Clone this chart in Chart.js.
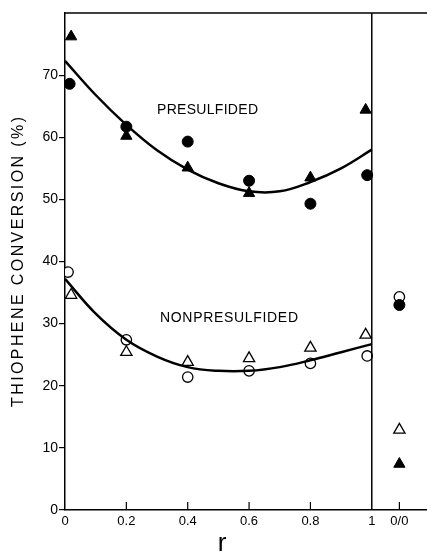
<!DOCTYPE html>
<html lang="en">
<head>
    <meta charset="UTF-8">
    <title>Thiophene Conversion</title>
    <script src="https://cdn.jsdelivr.net/npm/chart.js"></script>
    <style>
        html, body { margin: 0; padding: 0; background: #fff; }
        #wrap { width: 427px; height: 555px; }
    </style>
</head>
<body>
    <div id="wrap"><canvas id="conversionChart" width="427" height="555"></canvas></div>

    <script>
        // r values (0/0 plotted at the separate slot right of r = 1)
        const tickValues = [0, 0.2, 0.4, 0.6, 0.8, 1, 1.09];
        const tickLabels = ['0', '0.2', '0.4', '0.6', '0.8', '1', '0/0'];

        // measured points
        const presTriX = [0.02, 0.2, 0.4, 0.6, 0.8, 0.98, 1.09];
        const presTri = [76.2, 60.2, 55.1, 51.0, 53.5, 64.4, 7.4];
        const presCircX = [0.015, 0.2, 0.4, 0.6, 0.8, 0.985, 1.09];
        const presCirc = [68.6, 61.7, 59.3, 53.0, 49.3, 53.9, 33.0];
        const nonCircX = [0.01, 0.2, 0.4, 0.6, 0.8, 0.985, 1.09];
        const nonCirc = [38.3, 27.4, 21.4, 22.4, 23.6, 24.8, 34.3];
        const nonTriX = [0.02, 0.2, 0.4, 0.6, 0.8, 0.98, 1.09];
        const nonTri = [34.6, 25.4, 23.8, 24.4, 26.1, 28.2, 12.9];

        // fitted curves
        const curveX = [0, 0.1, 0.2, 0.3, 0.4, 0.5, 0.6, 0.7, 0.8, 0.9, 1];
        const presCurve = [72.3, 66.8, 62.0, 57.9, 54.8, 52.6, 51.3, 51.3, 52.8, 55.0, 58.0];
        const nonCurve = [37.2, 31.6, 27.4, 24.7, 23.0, 22.4, 22.4, 23.0, 24.1, 25.4, 26.7];

        const zip = (xs, ys) => xs.map((x, i) => ({ x: x, y: ys[i] }));

        const fontFamily = '"Liberation Sans", Arial, sans-serif';

        function drawSpaced(ctx, text, x, y, width) {
            ctx.letterSpacing = '0px';
            const w = ctx.measureText(text).width;
            const sp = (width - w) / (text.length - 1);
            ctx.letterSpacing = sp + 'px';
            ctx.fillText(text, x, y);
            ctx.letterSpacing = '0px';
        }

        const decorations = {
            id: 'decorations',
            afterDraw(chart) {
                const ctx = chart.ctx;
                const area = chart.chartArea;
                const xs = chart.scales.x;
                ctx.save();
                ctx.strokeStyle = '#000';
                ctx.lineWidth = 1.5;
                // top frame line
                ctx.beginPath();
                ctx.moveTo(area.left, area.top);
                ctx.lineTo(area.right, area.top);
                ctx.stroke();
                // inward x ticks
                ctx.lineWidth = 1.2;
                tickValues.forEach(v => {
                    if (v === 0 || v === 1) return;
                    const px = xs.getPixelForValue(v);
                    ctx.beginPath();
                    ctx.moveTo(px, area.bottom);
                    ctx.lineTo(px, area.bottom - 8);
                    ctx.stroke();
                });

                ctx.fillStyle = '#000';
                ctx.textBaseline = 'middle';
                ctx.textAlign = 'left';
                ctx.font = '14px ' + fontFamily;
                drawSpaced(ctx, 'PRESULFIDED', 157, 110, 101);
                drawSpaced(ctx, 'NONPRESULFIDED', 160, 318, 138);

                // y title
                ctx.save();
                ctx.translate(19, 262);
                ctx.rotate(-Math.PI / 2);
                ctx.font = '16px ' + fontFamily;
                drawSpaced(ctx, 'THIOPHENE CONVERSION (%)', -145, 0, 290);
                ctx.restore();

                // x title
                ctx.textAlign = 'center';
                ctx.textBaseline = 'alphabetic';
                ctx.font = '26px ' + fontFamily;
                ctx.fillText('r', 222, 551);
                ctx.restore();
            }
        };

        new Chart(document.getElementById('conversionChart').getContext('2d'), {
            type: 'scatter',
            data: {
                datasets: [
                    {
                        data: [{ x: 1, y: 0 }, { x: 1, y: 80 }],
                        showLine: true, borderColor: '#000', borderWidth: 1.5, pointRadius: 0
                    },
                    {
                        data: zip(curveX, presCurve),
                        showLine: true, tension: 0.4, borderColor: '#000', borderWidth: 2.5, pointRadius: 0
                    },
                    {
                        data: zip(curveX, nonCurve),
                        showLine: true, tension: 0.4, borderColor: '#000', borderWidth: 2.5, pointRadius: 0
                    },
                    {
                        data: zip(presTriX, presTri),
                        pointStyle: 'triangle', pointRadius: 6.5, backgroundColor: '#000', borderColor: '#000', borderWidth: 1
                    },
                    {
                        data: zip(presCircX, presCirc),
                        pointStyle: 'circle', pointRadius: 5.5, backgroundColor: '#000', borderColor: '#000', borderWidth: 1
                    },
                    {
                        data: zip(nonCircX, nonCirc),
                        pointStyle: 'circle', pointRadius: 5.2, backgroundColor: '#fff', borderColor: '#000', borderWidth: 1.3
                    },
                    {
                        data: zip(nonTriX, nonTri),
                        pointStyle: 'triangle', pointRadius: 6.5, backgroundColor: '#fff', borderColor: '#000', borderWidth: 1.3
                    }
                ]
            },
            options: {
                responsive: false,
                animation: false,
                layout: { autoPadding: false, padding: { top: 13, right: 0, left: 0, bottom: 0 } },
                plugins: { legend: { display: false }, tooltip: { enabled: false } },
                scales: {
                    x: {
                        type: 'linear',
                        min: 0,
                        max: 1.18,
                        afterBuildTicks: scale => { scale.ticks = tickValues.map(v => ({ value: v })); },
                        afterFit: scale => {
                            scale.height = 45;
                            scale.paddingLeft = 0;
                            scale.paddingRight = 0;
                        },
                        grid: { display: false, drawTicks: false },
                        border: { color: '#000', width: 1.5 },
                        ticks: {
                            padding: 4,
                            color: '#000',
                            font: { family: fontFamily, size: 13 },
                            maxRotation: 0,
                            autoSkip: false,
                            callback: (v, i) => tickLabels[i]
                        }
                    },
                    y: {
                        min: 0,
                        max: 80,
                        afterFit: scale => {
                            scale.width = 65;
                            scale.paddingTop = 0;
                            scale.paddingBottom = 0;
                        },
                        grid: {
                            drawOnChartArea: false,
                            tickLength: 6,
                            lineWidth: 1.2,
                            color: c => (c.tick && c.tick.value === 80 ? 'rgba(0,0,0,0)' : '#000')
                        },
                        border: { color: '#000', width: 1.5 },
                        ticks: {
                            stepSize: 10,
                            padding: 1,
                            color: '#000',
                            font: { family: fontFamily, size: 14 },
                            callback: v => (v === 80 ? '' : v)
                        }
                    }
                }
            },
            plugins: [decorations]
        });
    </script>
</body>
</html>
